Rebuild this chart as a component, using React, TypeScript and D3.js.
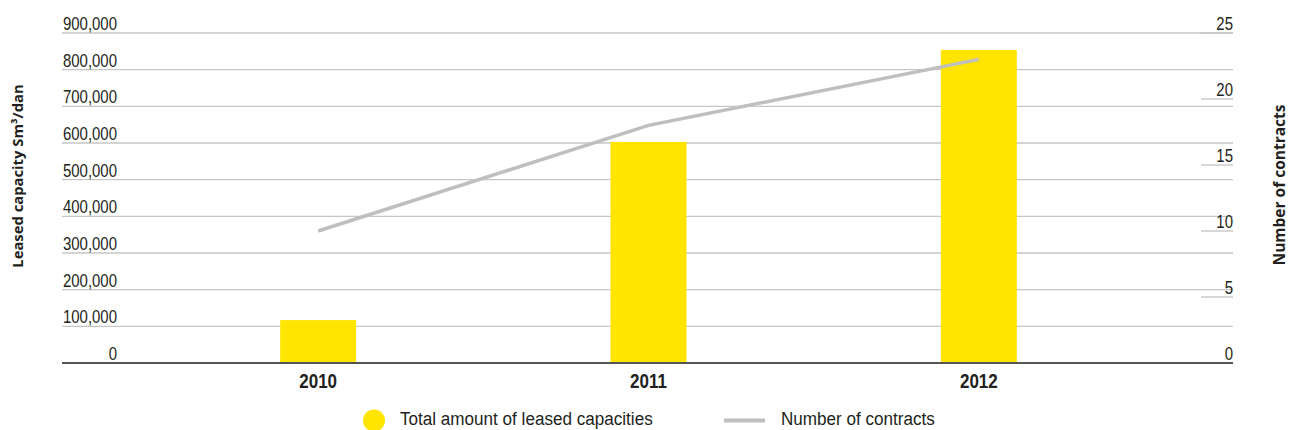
import React from "react";
import * as d3 from "d3";

const years = ["2010", "2011", "2012"];
const capacity = [117000, 603000, 854000];
const contracts = [10, 18, 23];
const leftTicks = [0, 100000, 200000, 300000, 400000, 500000, 600000, 700000, 800000, 900000];
const rightTicks = [0, 5, 10, 15, 20, 25];

const W = 1289;
const H = 430;
const plotLeft = 62;
const plotRight = 1233;
const yTop = 33;
const yBase = 363;

const narrowFont = "'Liberation Sans', Arial, sans-serif";
const titleFont = "'Open Sans', 'DejaVu Sans', sans-serif";
const textColor = "#231f20";
const yellow = "#ffe500";
const lineGray = "#bfbfbf";
const gridGray = "#c6c6c6";

type NTProps = {
  x: number;
  y: number;
  sx: number;
  anchor?: "start" | "middle" | "end";
  size: number;
  bold?: boolean;
  children: React.ReactNode;
};

function NarrowText({ x, y, sx, anchor = "start", size, bold, children }: NTProps) {
  return (
    <text
      transform={`translate(${x},${y}) scale(${sx},1)`}
      textAnchor={anchor}
      fontFamily={narrowFont}
      fontWeight={bold ? "bold" : "normal"}
      fontSize={size}
      fill={textColor}
    >
      {children}
    </text>
  );
}

export default function App() {
  const x = d3
    .scaleBand<string>()
    .domain(years)
    .range([153, 1144])
    .paddingInner(0.77)
    .paddingOuter(0.385);
  const yL = d3.scaleLinear().domain([0, 900000]).range([yBase, yTop]);
  const yR = d3.scaleLinear().domain([0, 25]).range([yBase, yTop]);
  const fmt = d3.format(",");
  const cx = (i: number) => (x(years[i]) as number) + x.bandwidth() / 2;
  const line = d3
    .line<number>()
    .x((_, i) => cx(i))
    .y((d) => yR(d));

  return (
    <svg width={W} height={H} style={{ position: "absolute", left: 0, top: 0, display: "block" }}>
      {leftTicks.map((t) =>
        t === 0 ? null : (
          <line key={"g" + t} x1={plotLeft} x2={plotRight} y1={yL(t)} y2={yL(t)} stroke={gridGray} strokeWidth={1.4} />
        )
      )}
      {rightTicks.map((t) =>
        t === 0 ? null : (
          <line key={"r" + t} x1={1201} x2={plotRight} y1={yR(t)} y2={yR(t)} stroke={gridGray} strokeWidth={1.4} />
        )
      )}
      {capacity.map((v, i) => (
        <rect
          key={"b" + i}
          x={x(years[i])}
          y={yL(v)}
          width={x.bandwidth()}
          height={yBase - yL(v)}
          fill={yellow}
        />
      ))}
      <line x1={plotLeft} x2={plotRight} y1={yBase} y2={yBase} stroke="#555" strokeWidth={2} />
      <path d={line(contracts) || ""} fill="none" stroke={lineGray} strokeWidth={3.5} />
      {leftTicks.map((t) => (
        <NarrowText key={"lt" + t} x={117} y={yL(t) - 3} sx={0.845} anchor="end" size={17.7}>
          {fmt(t)}
        </NarrowText>
      ))}
      {rightTicks.map((t) => (
        <NarrowText key={"rt" + t} x={1233} y={yR(t) - 3} sx={0.845} anchor="end" size={17.7}>
          {t}
        </NarrowText>
      ))}
      {years.map((y, i) => (
        <NarrowText key={"x" + y} x={cx(i)} y={388} sx={0.81} anchor="middle" size={21} bold>
          {y}
        </NarrowText>
      ))}
      <text
        transform="translate(23,176) rotate(-90)"
        textAnchor="middle"
        fontFamily={titleFont}
        fontWeight="bold"
        fontSize={14.8}
        fill={textColor}
      >
        Leased capacity Sm³/dan
      </text>
      <text
        transform="translate(1285,185) rotate(-90)"
        textAnchor="middle"
        fontFamily={titleFont}
        fontWeight="bold"
        fontSize={15.5}
        fill={textColor}
      >
        Number of contracts
      </text>
      <circle cx={374} cy={420.5} r={11} fill={yellow} />
      <NarrowText x={400} y={425} sx={0.9} size={19}>
        Total amount of leased capacities
      </NarrowText>
      <line x1={724} x2={765} y1={420.5} y2={420.5} stroke={lineGray} strokeWidth={4} />
      <NarrowText x={781} y={425} sx={0.9} size={19}>
        Number of contracts
      </NarrowText>
    </svg>
  );
}
